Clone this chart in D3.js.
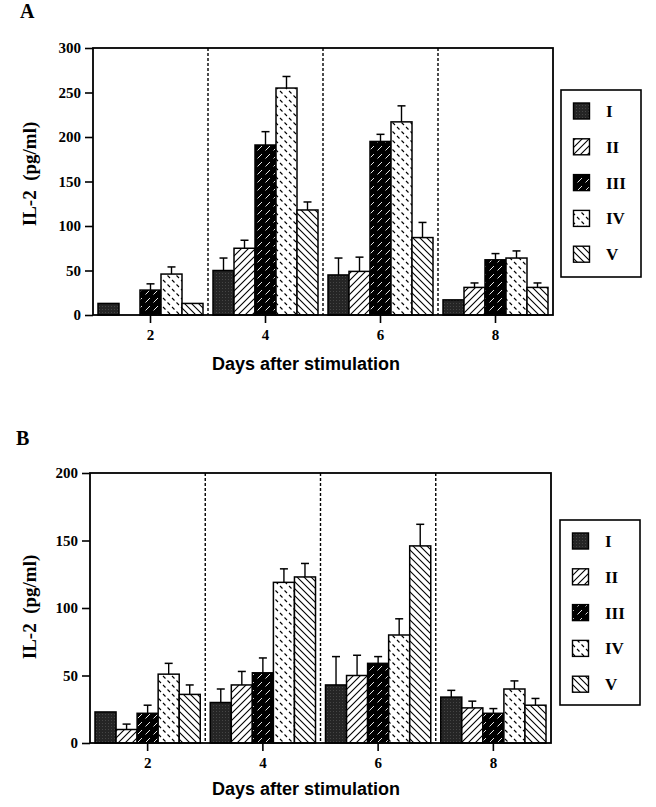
<!DOCTYPE html>
<html><head><meta charset="utf-8">
<script src="https://cdn.jsdelivr.net/npm/d3@7"></script>
<style>body{margin:0;background:#fff}</style>
</head><body>
<svg id="c" width="656" height="807"></svg>
<script>
// ---------- data ----------
const days = ["2", "4", "6", "8"];
const series = ["I", "II", "III", "IV", "V"];
const ticksA = [0, 50, 100, 150, 200, 250, 300];
const ticksB = [0, 50, 100, 150, 200];
const xTitle = "Days after stimulation";
const yTitle = "IL-2\u00a0\u00a0(pg/ml)";

// Panel A means (rows = series I..V, columns = days 2,4,6,8)
const meanA = [
  [13, 50, 45, 17],
  [0, 75, 49, 31],
  [28, 191, 195, 62],
  [46, 255, 217, 64],
  [13, 118, 87, 31]
];
// Panel A error (SD), null = no bar drawn
const errA = [
  [null, 14, 19, null],
  [null, 9, 16, 5],
  [7, 15, 8, 7],
  [8, 13, 18, 8],
  [null, 9, 17, 5]
];
// Panel B means
const meanB = [
  [23, 30, 43, 34],
  [10, 43, 50, 26],
  [22, 52, 59, 22],
  [51, 119, 80, 40],
  [36, 123, 146, 28]
];
const errB = [
  [null, 10, 21, 5],
  [4, 10, 15, 5],
  [6, 11, 5, 3.5],
  [8, 10, 12, 6],
  [7, 10, 16, 5]
];

// ---------- drawing ----------
const svg = d3.select("#c");
const defs = svg.append("defs");
const serif = "'Liberation Serif','Times New Roman',serif";
const sans = "'Liberation Sans',Arial,Helvetica,sans-serif";

function pat(id, w, h, bg, build) {
  const p = defs.append("pattern").attr("id", id).attr("patternUnits", "userSpaceOnUse")
    .attr("width", w).attr("height", h);
  p.append("rect").attr("width", w).attr("height", h).attr("fill", bg);
  build(p);
}
pat("pI", 3, 3, "#252525", p => p.append("rect").attr("width", 1).attr("height", 1).attr("fill", "#454545"));
pat("pII", 7, 7, "#fff", p => p.append("path").attr("d", "M-1,8 L8,-1 M-1,1 L1,-1 M6,8 L8,6").attr("stroke", "#000").attr("stroke-width", 1.1));
pat("pIII", 8, 8, "#000", p => p.append("path").attr("d", "M1.5,6.5 L6,2").attr("stroke", "#fff").attr("stroke-width", 0.9));
pat("pIV", 9, 9, "#fff", p => p.append("path").attr("d", "M1,1 L3.5,3.5 M5.5,5.5 L8,8").attr("stroke", "#000").attr("stroke-width", 1.1));
pat("pV", 7, 7, "#fff", p => p.append("path").attr("d", "M-1,-1 L8,8 M-1,6 L1,8 M6,-1 L8,1").attr("stroke", "#000").attr("stroke-width", 1.1));
const fills = ["url(#pI)", "url(#pII)", "url(#pIII)", "url(#pIV)", "url(#pV)"];

function panel(cfg) {
  const g = svg.append("g");
  const x = d3.scaleBand().domain(days).range([cfg.left, cfg.right]).paddingInner(0).paddingOuter(0);
  const xi = d3.scaleBand().domain(series).range([5, x.bandwidth() - 5]);
  const y = d3.scaleLinear().domain([0, cfg.ymax]).range([cfg.bottom, cfg.top]);

  // dividers
  days.slice(1).forEach(d => {
    g.append("line").attr("x1", x(d)).attr("x2", x(d)).attr("y1", cfg.top).attr("y2", cfg.bottom)
      .attr("stroke", "#000").attr("stroke-width", 1.4).attr("stroke-dasharray", "3,2");
  });

  // bars
  series.forEach((s, si) => {
    days.forEach((d, di) => {
      const v = cfg.mean[si][di];
      if (!v) return;
      const bx = x(d) + xi(s);
      g.append("rect").attr("x", bx).attr("y", y(v)).attr("width", xi.bandwidth())
        .attr("height", y(0) - y(v)).attr("fill", fills[si]).attr("stroke", "#000").attr("stroke-width", 1.5);
    });
  });
  // error bars
  series.forEach((s, si) => {
    days.forEach((d, di) => {
      const v = cfg.mean[si][di], e = cfg.err[si][di];
      if (!v || e == null) return;
      const cx = x(d) + xi(s) + xi.bandwidth() / 2;
      g.append("line").attr("x1", cx).attr("x2", cx).attr("y1", y(v)).attr("y2", y(v + e))
        .attr("stroke", "#000").attr("stroke-width", 1.4);
      g.append("line").attr("x1", cx - 4).attr("x2", cx + 4).attr("y1", y(v + e)).attr("y2", y(v + e))
        .attr("stroke", "#000").attr("stroke-width", 1.5);
    });
  });

  // frame
  g.append("rect").attr("x", cfg.left).attr("y", cfg.top).attr("width", cfg.right - cfg.left)
    .attr("height", cfg.bottom - cfg.top).attr("fill", "none").attr("stroke", "#000").attr("stroke-width", 1.8);

  // axes
  const ya = g.append("g").attr("transform", `translate(${cfg.left},0)`)
    .call(d3.axisLeft(y).tickValues(cfg.ticks).tickSize(8).tickPadding(4).tickFormat(d3.format("d")));
  ya.select(".domain").remove();
  ya.selectAll("line").attr("stroke-width", 1.6);
  ya.selectAll("text").attr("font-family", serif).attr("font-size", 15).attr("font-weight", "bold").attr("fill", "#000");

  const xa = g.append("g").attr("transform", `translate(0,${cfg.bottom})`)
    .call(d3.axisBottom(x).tickSize(8).tickPadding(6));
  xa.select(".domain").remove();
  xa.selectAll("line").attr("stroke-width", 1.6);
  xa.selectAll("text").attr("font-family", serif).attr("font-size", 15).attr("font-weight", "bold").attr("fill", "#000");

  // titles
  g.append("text").attr("x", 306).attr("y", cfg.xTitleY).attr("text-anchor", "middle")
    .attr("font-family", sans).attr("font-weight", "bold").attr("font-size", 18).text(xTitle);
  g.append("text").attr("transform", `translate(36,${cfg.yTitleY}) rotate(-90)`).attr("text-anchor", "middle")
    .attr("font-family", serif).attr("font-weight", "bold").attr("font-size", 19).text(yTitle);
  g.append("text").attr("x", cfg.letterX).attr("y", cfg.letterY).attr("font-family", serif)
    .attr("font-weight", "bold").attr("font-size", 20).text(cfg.letter);

  // legend
  const L = cfg.legend;
  g.append("rect").attr("x", L.x).attr("y", L.y).attr("width", L.w).attr("height", L.h)
    .attr("fill", "#fff").attr("stroke", "#000").attr("stroke-width", 1.6);
  series.forEach((s, si) => {
    const cy = L.y + 21 + si * 35.8;
    g.append("rect").attr("x", L.x + 12.5).attr("y", cy - 8).attr("width", 16).attr("height", 16)
      .attr("fill", fills[si]).attr("stroke", "#000").attr("stroke-width", 1.4);
    g.append("text").attr("x", L.x + 45).attr("y", cy + 6).attr("font-family", serif)
      .attr("font-weight", "bold").attr("font-size", 17).text(s);
  });
}

panel({left: 93, right: 553, top: 48, bottom: 315, ymax: 300, ticks: ticksA, mean: meanA, err: errA,
  legend: {x: 561, y: 90, w: 80, h: 187}, letter: "A", letterX: 20, letterY: 18, yTitleY: 174, xTitleY: 370});
panel({left: 90, right: 551, top: 473, bottom: 743, ymax: 200, ticks: ticksB, mean: meanB, err: errB,
  legend: {x: 560, y: 520, w: 80, h: 185}, letter: "B", letterX: 16, letterY: 445, yTitleY: 607, xTitleY: 795});
</script>
</body></html>
